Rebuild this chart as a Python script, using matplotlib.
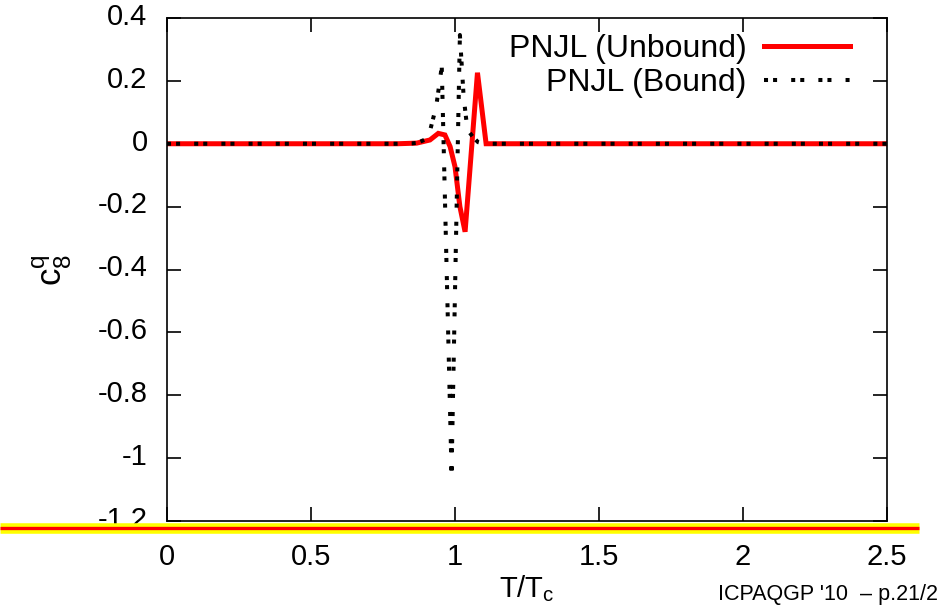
import numpy as np
import matplotlib
matplotlib.use("Agg")
import matplotlib.pyplot as plt
from matplotlib.lines import Line2D
from matplotlib.transforms import ScaledTranslation

plt.rcParams['font.family'] = ['Liberation Sans', 'DejaVu Sans']
plt.rcParams['mathtext.default'] = 'regular'
plt.rcParams['axes.unicode_minus'] = False

# PNJL (Unbound) - cervena plna
T_unb = [0.0, 0.2, 0.4, 0.6, 0.8, 0.867, 0.913, 0.942, 0.965, 0.983, 1.0,
         1.017, 1.035, 1.078, 1.108, 1.2, 1.5, 2.0, 2.5]
c8_unb = [0.0, 0.0, 0.0, 0.0, 0.0, 0.002, 0.012, 0.033, 0.028, -0.009, -0.073,
          -0.2, -0.28, 0.226, 0.0, 0.0, 0.0, 0.0, 0.0]

# PNJL (Bound) - cerna teckovana
T_bnd = [0.0, 0.2, 0.4, 0.6, 0.8, 0.85, 0.87, 0.9, 0.913, 0.935, 0.954,
         0.988, 1.017, 1.03, 1.043, 1.061, 1.08, 1.1, 1.2, 1.5, 2.0, 2.5]
c8_bnd = [0.0, 0.0, 0.0, 0.0, 0.0, 0.001, 0.003, 0.015, 0.04, 0.12, 0.245,
          -1.047, 0.346, 0.15, 0.045, 0.023, 0.005, 0.0, 0.0, 0.0, 0.0, 0.0]

xticks = [0, 0.5, 1, 1.5, 2, 2.5]
xlabels = ["0", "0.5", "1", "1.5", "2", "2.5"]
yticks = [-1.2, -1.0, -0.8, -0.6, -0.4, -0.2, 0.0, 0.2, 0.4]
ylabels = ["-1.2", "-1", "-0.8", "-0.6", "-0.4", "-0.2", "0", "0.2", "0.4"]

fig = plt.figure(figsize=(9.45, 6.16), dpi=100)
ax = fig.add_axes([167/945, 1-521/616, 720/945, 503/616])

ax.plot(T_unb, c8_unb, color='#ff0000', lw=3.6, solid_joinstyle='miter',
        label='PNJL (Unbound)')
ax.plot(T_bnd, c8_bnd, color='black', lw=2.9, linestyle=(0, (1, 1.25, 1, 3.5)),
        dash_capstyle='butt', label='PNJL (Bound)')

ax.set_xlim(0, 2.5)
ax.set_ylim(-1.2, 0.4)
ax.set_xticks(xticks)
ax.set_xticklabels(xlabels)
ax.set_yticks(yticks)
ax.set_yticklabels(ylabels)
ax.tick_params(direction='in', length=10, width=1.2, top=True, right=True,
               labelsize=21)
ax.tick_params(axis='x', pad=15.5)
ax.tick_params(axis='y', pad=14)
# popisky osy y trochu nahoru
posun = ScaledTranslation(0, 3/72, fig.dpi_scale_trans)
for lab in ax.get_yticklabels():
    lab.set_transform(lab.get_transform() + posun)
for s in ax.spines.values():
    s.set_linewidth(1.2)

ax.set_xlabel('T/T$_c$', fontsize=21, labelpad=2)
ax.set_ylabel('$c_8^q$', fontsize=25, labelpad=17)

leg = ax.legend(loc='upper right', bbox_to_anchor=(0.949, 0.968), frameon=False,
                markerfirst=False, fontsize=23, handlelength=2.7,
                handletextpad=0.55, labelspacing=0.12, borderpad=0,
                borderaxespad=0)

# pruh dole pres celou sirku
fig.add_artist(Line2D([0, 919/945], [1-528/616]*2, color='#ffff00', lw=7.6,
                      solid_capstyle='butt', zorder=20))
fig.add_artist(Line2D([0, 919/945], [1-528/616]*2, color='#ff0000', lw=2.4,
                      solid_capstyle='butt', zorder=21))

fig.text(718/945, 1-600/616, "ICPAQGP '10  \u2013 p.21/2", fontsize=15.5,
         va='baseline', ha='left')

fig.savefig('out.png', dpi=100)
